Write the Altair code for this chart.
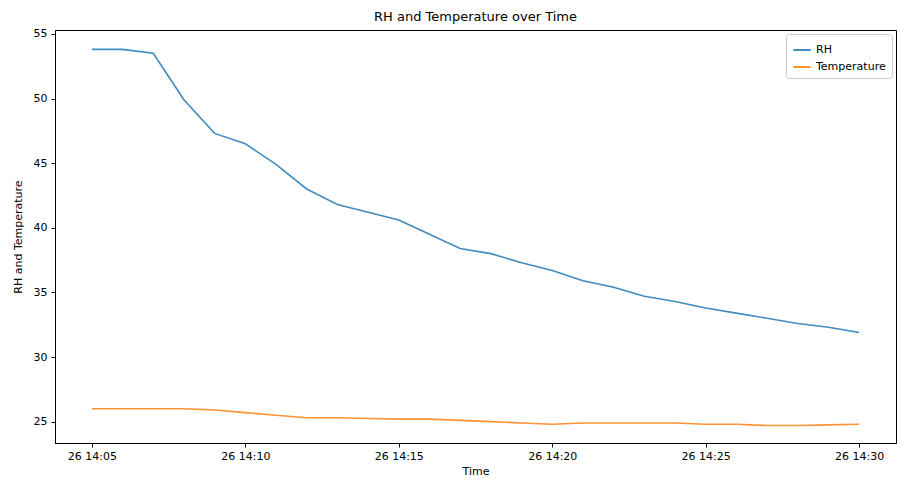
import altair as alt
import pandas as pd

times = [f"2024-01-26T14:{m:02d}:00Z" for m in range(5, 31)]
rh = [53.8, 53.8, 53.5, 49.9, 47.3, 46.5, 44.9, 43.0, 41.8, 41.2, 40.6, 39.5, 38.4,
      38.0, 37.3, 36.7, 35.9, 35.4, 34.7, 34.3, 33.8, 33.4, 33.0, 32.6, 32.3, 31.9]
temp = [26.0, 26.0, 26.0, 26.0, 25.9, 25.7, 25.5, 25.3, 25.3, 25.25, 25.2, 25.2, 25.1,
        25.0, 24.9, 24.8, 24.9, 24.9, 24.9, 24.9, 24.8, 24.8, 24.7, 24.7, 24.75, 24.8]
series = ["RH", "Temperature"]
colors = ["#1f77b4", "#ff7f0e"]
tick_minutes = [5, 10, 15, 20, 25, 30]
y_ticks = [25, 30, 35, 40, 45, 50, 55]

df = pd.DataFrame({"Time": times * 2,
                   "value": rh + temp,
                   "series": [series[0]] * len(times) + [series[1]] * len(times)})

t0 = pd.Timestamp("2024-01-26T14:03:48Z").value // 10**6
t1 = pd.Timestamp("2024-01-26T14:31:12Z").value // 10**6
tick_vals = [alt.DateTime(year=2024, month=1, date=26, hours=14, minutes=m, utc=True)
             for m in tick_minutes]

font = "DejaVu Sans"

chart = alt.Chart(df).mark_line(strokeWidth=1.6, opacity=0.85).encode(
    x=alt.X("Time:T",
            scale=alt.Scale(type="utc", domain=[t0, t1], nice=False),
            axis=alt.Axis(values=tick_vals, labelExpr="utcFormat(datum.value, '%d %H:%M')",
                          grid=False, title="Time", tickSize=4, labelPadding=3,
                          titlePadding=4, labelFlush=False)),
    y=alt.Y("value:Q",
            scale=alt.Scale(domain=[23.35, 55.3], nice=False, zero=False),
            axis=alt.Axis(values=y_ticks, grid=False, title="RH and Temperature",
                          tickSize=4, labelPadding=4, titlePadding=10)),
    color=alt.Color("series:N",
                    scale=alt.Scale(domain=series, range=colors),
                    legend=alt.Legend(title=None, orient="top-right", symbolType="stroke",
                                      symbolStrokeWidth=2, symbolSize=300,
                                      fillColor="white", strokeColor="#cccccc",
                                      cornerRadius=3, padding=6, offset=4,
                                      labelFontSize=11, labelFont=font)),
    order=alt.Order("Time:T"),
).properties(
    width=841, height=413,
    title=alt.Title("RH and Temperature over Time", fontSize=13, fontWeight="normal",
                    font=font, offset=4, frame="group"),
    autosize=alt.AutoSizeParams(type="none"),
    padding={"left": 47, "top": 22, "right": 1, "bottom": 36},
).configure_view(
    stroke="black", strokeWidth=1
).configure_axis(
    domainColor="black", tickColor="black", labelColor="black", titleColor="black",
    labelFont=font, titleFont=font, labelFontSize=11, titleFontSize=11,
    titleFontWeight="normal"
)

chart.save("out.html", embed_options={"renderer": "svg", "actions": False})
